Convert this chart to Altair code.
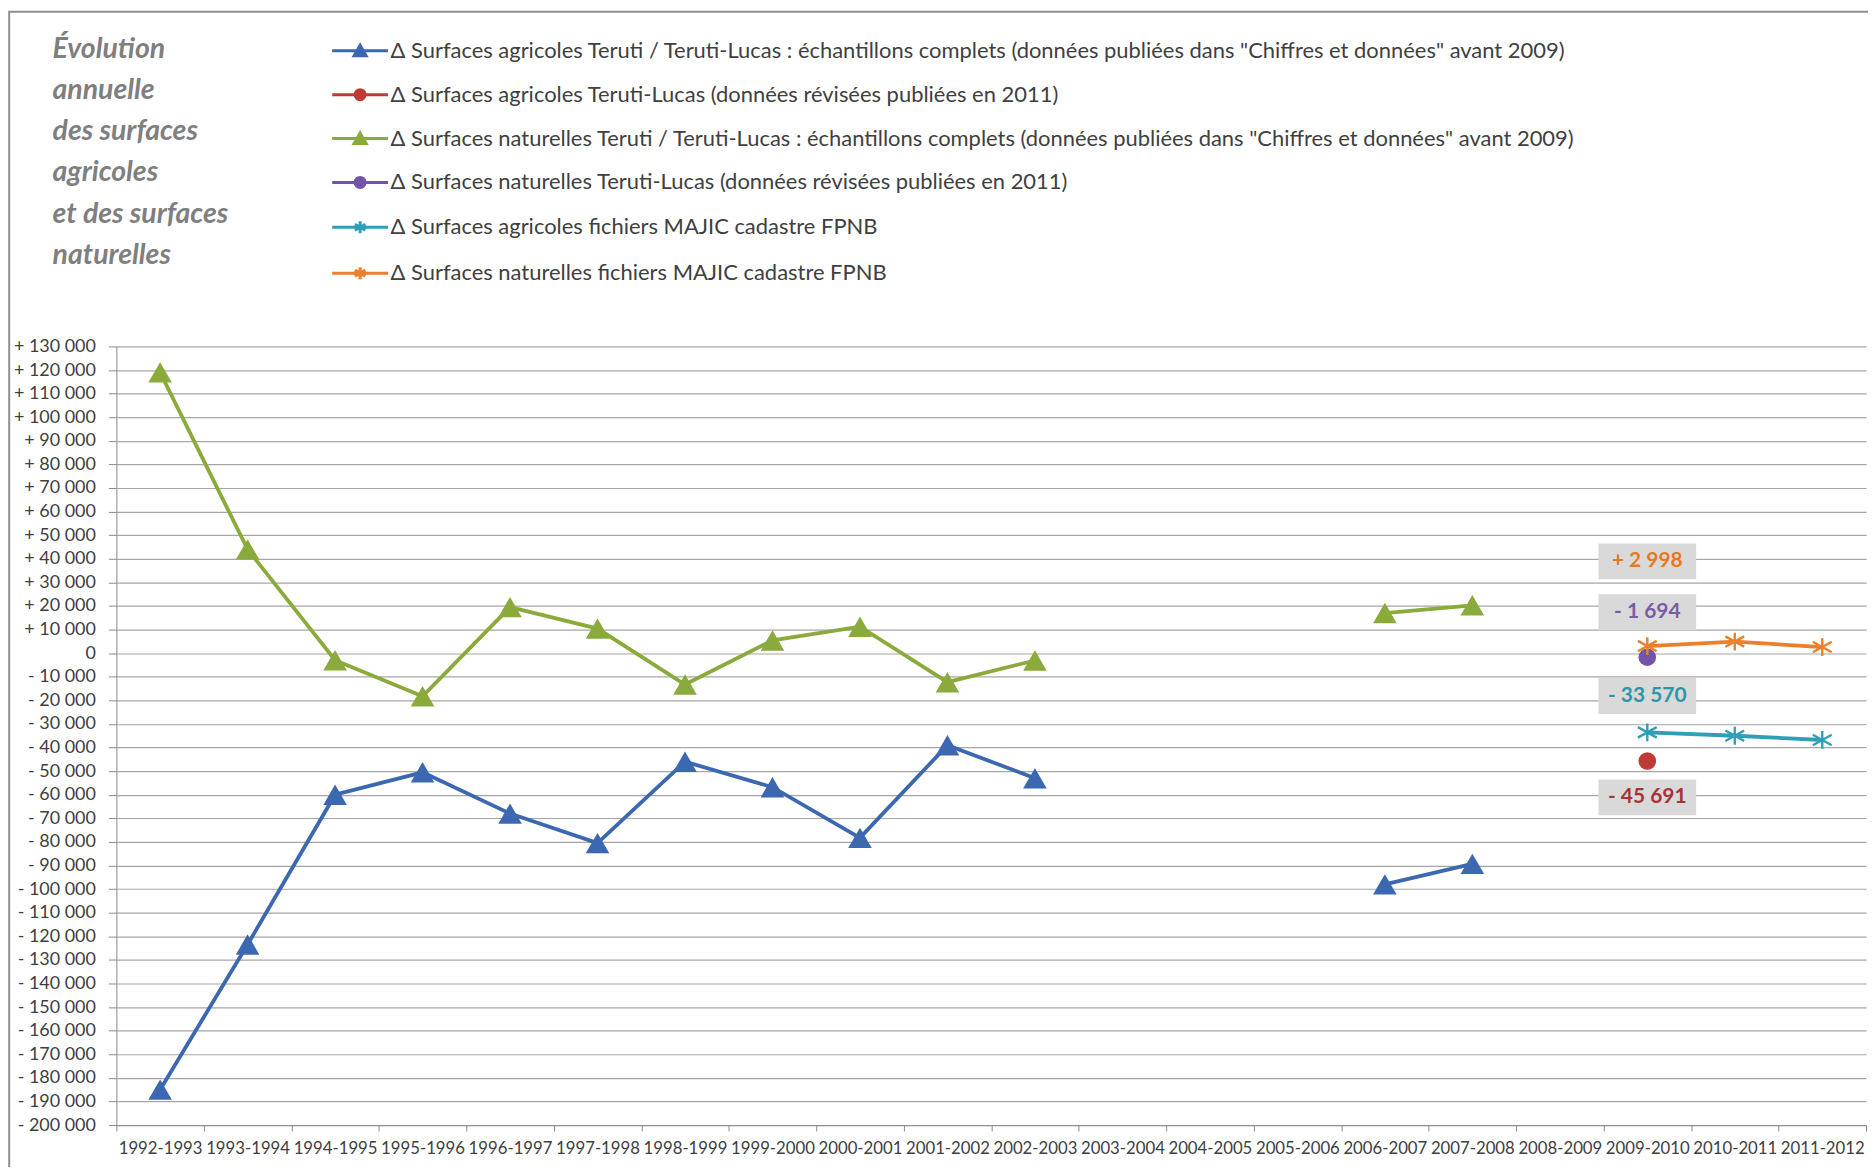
import altair as alt
import pandas as pd

# ---------------- data ----------------
categories = ["1992-1993", "1993-1994", "1994-1995", "1995-1996", "1996-1997",
              "1997-1998", "1998-1999", "1999-2000", "2000-2001", "2001-2002",
              "2002-2003", "2003-2004", "2004-2005", "2005-2006", "2006-2007",
              "2007-2008", "2008-2009", "2009-2010", "2010-2011", "2011-2012"]

series_names = [
    'Δ Surfaces agricoles Teruti / Teruti-Lucas : échantillons complets (données publiées dans "Chiffres et données" avant 2009)',
    'Δ Surfaces agricoles Teruti-Lucas (données révisées publiées en 2011)',
    'Δ Surfaces naturelles Teruti / Teruti-Lucas : échantillons complets (données publiées dans "Chiffres et données" avant 2009)',
    'Δ Surfaces naturelles Teruti-Lucas (données révisées publiées en 2011)',
    'Δ Surfaces agricoles fichiers MAJIC cadastre FPNB',
    'Δ Surfaces naturelles fichiers MAJIC cadastre FPNB',
]

agri_teruti = [-185000, -123500, -60000, -50500, -68000, -80500, -46000, -56800, -78300, -39000,
               -53000, None, None, None, -98000, -89300, None, None, None, None]
agri_lucas_2011 = [None, None, None, None, None, None, None, None, None, None,
                   None, None, None, None, None, None, None, -45691, None, None]
nat_teruti = [119000, 44000, -3000, -18300, 19500, 10400, -13300, 5400, 11200, -12300,
              -3100, None, None, None, 17000, 20300, None, None, None, None]
nat_lucas_2011 = [None, None, None, None, None, None, None, None, None, None,
                  None, None, None, None, None, None, None, -1694, None, None]
agri_majic = [None, None, None, None, None, None, None, None, None, None,
              None, None, None, None, None, None, None, -33570, -35000, -36800]
nat_majic = [None, None, None, None, None, None, None, None, None, None,
             None, None, None, None, None, None, None, 2998, 4900, 2600]

all_values = [agri_teruti, agri_lucas_2011, nat_teruti, nat_lucas_2011, agri_majic, nat_majic]

title_lines = ["Évolution", "annuelle", "des surfaces", "agricoles", "et des surfaces", "naturelles"]
y_ticks = list(range(-200000, 130001, 10000))
labelled_category = "2009-2010"
labelled_series = [series_names[5], series_names[3], series_names[4], series_names[1]]

# ---------------- styles ----------------
colors = ["#3b68b0", "#be3b36", "#8aab3c", "#7453a8", "#2f9fb8", "#ec7f2c"]
label_colors = {series_names[5]: "#e8791e", series_names[3]: "#7a5ca8",
                series_names[4]: "#2f96a8", series_names[1]: "#a93236"}
label_dy = {series_names[5]: -85, series_names[3]: -45, series_names[4]: -36.5, series_names[1]: 36.5}
markers = ["tri", "circ", "tri", "circ", "ast", "ast"]
FONT = "Lato"
W, H = 1755, 781

rows = []
for s, vals in zip(series_names, all_values):
    seg, gap = 0, True
    for c, v in zip(categories, vals):
        if v is None:
            gap = True
            continue
        if gap:
            seg += 1
            gap = False
        rows.append({"cat": c, "value": v, "series": s, "seg": seg})
df = pd.DataFrame(rows)

lab_rows = []
for s in labelled_series:
    v = all_values[series_names.index(s)][categories.index(labelled_category)]
    txt = ("+ " if v > 0 else "- ") + f"{abs(v):,}".replace(",", " ")
    lab_rows.append({"cat": labelled_category, "value": v, "series": s, "label": txt})
lab_df = pd.DataFrame(lab_rows)

line_path = "M-2.8,0H2.8"
legend_marker = {
    "tri": "M0,-0.55L0.6,0.5L-0.6,0.5Z",
    "circ": "M0.5,0A0.5,0.5 0 1,1 -0.5,0A0.5,0.5 0 1,1 0.5,0Z",
    "ast": "M0,-0.6V0.6M-0.52,-0.3L0.52,0.3M-0.52,0.3L0.52,-0.3",
}
legend_paths = [line_path + legend_marker[m] for m in markers]

legend = alt.Legend(
    title=None, orient="none", legendX=233, legendY=-308, direction="vertical",
    symbolSize=400, symbolStrokeWidth=3, symbolOffset=0,
    labelFont=FONT, labelFontSize=22, labelColor="#404040", labelLimit=1700,
    labelOffset=19, rowPadding=21,
)

color_scale = alt.Scale(domain=series_names, range=colors)
color_enc = alt.Color("series:N", scale=color_scale, legend=None)

x_enc = alt.X("cat:N", scale=alt.Scale(type="band", domain=categories, paddingInner=0, paddingOuter=0),
              bandPosition=0.5,
              axis=alt.Axis(title=None, labelAngle=0, tickBand="extent", grid=False,
                            tickSize=6, labelPadding=10, labelFontSize=16.8, labelColor="#404040",
                            domainColor="#8c8c8c", tickColor="#8c8c8c", labelFont=FONT))
y_expr = ("datum.value > 0 ? '+ ' + replace(format(datum.value, ','), ',', ' ') : "
          "datum.value < 0 ? '- ' + replace(format(-datum.value, ','), ',', ' ') : '0'")
y_enc = alt.Y("value:Q", scale=alt.Scale(domain=[-200000, 130000], nice=False, zero=False),
              axis=alt.Axis(title=None, values=y_ticks, labelExpr=y_expr, grid=True,
                            gridColor="#a6a6a6", gridWidth=1.2, tickSize=8, labelPadding=13,
                            labelFontSize=18, labelColor="#404040", labelFont=FONT,
                            domainColor="#8c8c8c", tickColor="#8c8c8c"))

base = alt.Chart(df)
single = alt.Data(values=[{}])

frame = alt.Chart(single).mark_rect(fillOpacity=0, stroke="#8f8f8f", strokeWidth=2).encode(
    x=alt.value(-107.5), x2=alt.value(W + 60), y=alt.value(-335.7), y2=alt.value(H + 120))

title = alt.Chart(single).mark_text(
    align="left", baseline="alphabetic", font=FONT, fontSize=28.5, fontStyle="italic", fontWeight="bold",
    color="#7f7f7f", lineHeight=41.4).encode(
    x=alt.value(-64), y=alt.value(-289.7), text=alt.value(title_lines))

# legend-only layer: draws no data, carries the merged colour/shape/stroke legend
legend_layer = base.transform_filter("false").mark_point(filled=True, opacity=1, strokeWidth=3).encode(
    x=x_enc, y=y_enc,
    color=alt.Color("series:N", scale=color_scale, legend=legend),
    stroke=alt.Stroke("series:N", scale=color_scale, legend=legend),
    shape=alt.Shape("series:N", scale=alt.Scale(domain=series_names, range=legend_paths), legend=legend),
)

lines = base.mark_line(strokeWidth=3.8).encode(x=x_enc, y=y_enc, color=color_enc, detail="seg:N")

def series_of(kind):
    return [s for s, m in zip(series_names, markers) if m == kind]

tri = base.transform_filter(alt.FieldOneOfPredicate(field="series", oneOf=series_of("tri"))).mark_point(
    shape="triangle-up", filled=True, size=560, opacity=1).encode(x=x_enc, y=y_enc, color=color_enc)
circ = base.transform_filter(alt.FieldOneOfPredicate(field="series", oneOf=series_of("circ"))).mark_point(
    shape="circle", filled=True, size=310, opacity=1).encode(x=x_enc, y=y_enc, color=color_enc)
ast = base.transform_filter(alt.FieldOneOfPredicate(field="series", oneOf=series_of("ast"))).mark_point(
    shape="M0,-0.85V0.85M-0.9,-0.5L0.9,0.5M-0.9,0.5L0.9,-0.5", filled=False, size=440, strokeWidth=2.4,
    opacity=1).encode(x=x_enc, y=y_enc, color=color_enc)

box_path = "M-1,-0.367H1V0.367H-1Z"
label_layers = []
for s in labelled_series:
    sub = alt.Chart(lab_df).transform_filter(alt.FieldEqualPredicate(field="series", equal=s))
    box = sub.mark_point(shape=box_path, size=98 * 98, filled=True, color="#d9d9d9", opacity=1,
                         yOffset=label_dy[s]).encode(x=x_enc, y=y_enc)
    txt = sub.mark_text(dy=label_dy[s], fontWeight="bold", fontSize=21, font=FONT,
                        color=label_colors[s]).encode(x=x_enc, y=y_enc, text="label:N")
    label_layers += [box, txt]

chart = alt.layer(frame, title, legend_layer, lines, tri, circ, ast, *label_layers).properties(
    width=W, height=H,
    autosize=alt.AutoSizeParams(type="none"),
    padding={"left": 108.7, "top": 337.7, "right": 2, "bottom": 40},
).configure_view(stroke="transparent")

chart.save("out.html", embed_options={"renderer": "svg", "actions": False})
